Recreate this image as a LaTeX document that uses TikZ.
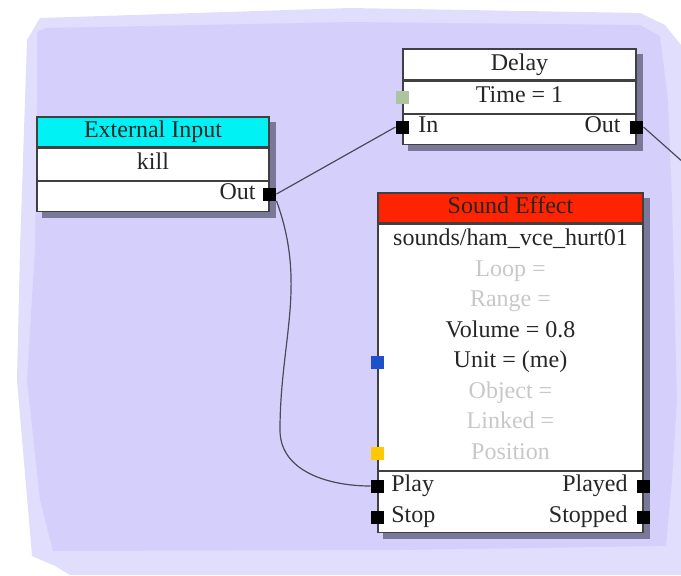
\documentclass[tikz,border=0pt]{standalone}
\usepackage{fontspec}
\setmainfont{Liberation Serif}
\usetikzlibrary{positioning,calc,backgrounds}
\definecolor{bgouter}{HTML}{E1DDFD}
\definecolor{bginner}{HTML}{D5D0FB}
\definecolor{shadowc}{HTML}{7A7898}
\definecolor{headcyan}{HTML}{00F2F4}
\definecolor{headred}{HTML}{FF2400}
\definecolor{txt}{HTML}{262626}
\definecolor{dimtxt}{HTML}{C8C8C8}
\definecolor{wirec}{HTML}{4A4A58}
\definecolor{portgreen}{HTML}{AEC4A0}
\definecolor{portblue}{HTML}{1F50CC}
\definecolor{portyellow}{HTML}{FFC800}
\tikzset{
    % rows of a block
    row/.style={
           rectangle,
           draw=black!75, line width=0.6pt,
           fill=white,
           inner sep=0pt,
           text=txt},
    % text lines
    lbl/.style={
           inner sep=1pt,
           text height=8pt, text depth=2.5pt},
    % small squares on the block edges
    port/.style={
           rectangle,
           minimum size=6.5pt,
           inner sep=0pt,
           fill=black},
    % connectors
    wire/.style={
           draw=wirec,
           line width=0.6pt}
}
% shadow behind a block, from its top row to its bottom row
\newcommand*{\blockshadow}[2]{\fill[shadowc] ($(#1.north west)+(6,6)$) rectangle ($(#2.south east)+(6,6)$);}

\begin{document}
\begin{tikzpicture}[x=0.5pt,y=-0.5pt,font=\fontsize{12}{14}\selectfont]
\useasboundingbox (0,0) rectangle (681,575);

% External Input
\node[row, fill=headcyan, minimum width=116pt, minimum height=15pt, lbl] (eiHead) at (153,132) {External Input};
\node[row, minimum width=116pt, minimum height=16pt, lbl, below=0pt of eiHead] (eiName) {kill};
\node[row, minimum width=116pt, minimum height=15pt, below=0pt of eiName] (eiIO) {};
\node[lbl, text=txt, anchor=east] (eiOutL) at (258,194) {Out};
\node[port] (eiOut) at (eiIO.east |- eiOutL) {};

% Delay
\node[row, minimum width=116.5pt, minimum height=15.5pt, lbl] (dlHead) at (519.5,64.5) {Delay};
\node[row, minimum width=116.5pt, minimum height=16pt, lbl, below=0pt of dlHead] (dlTime) {Time = 1};
\node[row, minimum width=116.5pt, minimum height=15pt, below=0pt of dlTime] (dlIO) {};
\node[port, fill=portgreen] (dlTimeP) at (dlTime.west) {};
\node[lbl, text=txt, anchor=west] (dlInL) at (416,127) {In};
\node[lbl, text=txt, anchor=east] (dlOutL) at (623,127) {Out};
\node[port] (dlIn) at (dlIO.west |- dlInL) {};
\node[port] (dlOut) at (dlIO.east |- dlOutL) {};

% Sound Effect
\node[row, fill=headred, minimum width=132.5pt, minimum height=15pt, lbl] (seHead) at (510.5,208) {Sound Effect};
\node[row, minimum width=132.5pt, minimum height=123pt, below=0pt of seHead] (seBody) {};
\node[row, minimum width=132.5pt, minimum height=30.5pt, below=0pt of seBody] (seIO) {};
\node[lbl, text=txt] (seRow0) at (510.5,240) {sounds/ham\_vce\_hurt01};
\foreach \t/\c [count=\i] in {Loop =/dimtxt, Range =/dimtxt, Volume = 0.8/txt, Unit = (me)/txt,
                              Object =/dimtxt, Linked =/dimtxt, Position/dimtxt}
    \node[lbl, text=\c] (seRow\i) at (510.5,240+30.5*\i) {\t};
\node[port, fill=portblue] (seUnit) at (seBody.west |- seRow4) {};
\node[port, fill=portyellow] (sePos) at (seBody.west |- seRow7) {};
\node[lbl, text=txt, anchor=west] (sePlayL) at (389,486) {Play};
\node[lbl, text=txt, anchor=west] (seStopL) at (389,517) {Stop};
\node[lbl, text=txt, anchor=east] (sePlayedL) at (630,486) {Played};
\node[lbl, text=txt, anchor=east] (seStoppedL) at (630,517) {Stopped};
\node[port] (sePlay) at (seIO.west |- sePlayL) {};
\node[port] (seStop) at (seIO.west |- seStopL) {};
\node[port] (sePlayed) at (seIO.east |- sePlayedL) {};
\node[port] (seStopped) at (seIO.east |- seStoppedL) {};

% backdrop and shadows go underneath
\begin{scope}[on background layer]
\fill[bgouter] (27,40) -- (40,18) -- (350,8) -- (640,13) -- (665,25) -- (681,45)
   -- (681,575) -- (70,575) -- (55,566) -- (32,556) -- (17,380) -- (20,250) -- cycle;
\fill[bginner] (37,32) -- (46,28) -- (350,22) -- (640,25) -- (660,36) -- (668,100)
   -- (672,200) -- (677,400) -- (672,480) -- (666,546) -- (400,550) -- (53,551)
   -- (40,500) -- (27,380) -- (35,250) -- (37,100) -- cycle;
\blockshadow{eiHead}{eiIO}
\blockshadow{dlHead}{dlIO}
\blockshadow{seHead}{seIO}
\end{scope}

% connectors
\coordinate (bendL) at (280,430);
\coordinate (offR) at (684,163);
\draw[wire] (eiOut.east) -- (dlIn.west);
\draw[wire] (dlOut.east) -- (offR);
\draw[wire] (eiOut.south east) to[out=-70,in=90] (bendL) to[out=-90,in=180] (sePlay.west);
\end{tikzpicture}
\end{document}
